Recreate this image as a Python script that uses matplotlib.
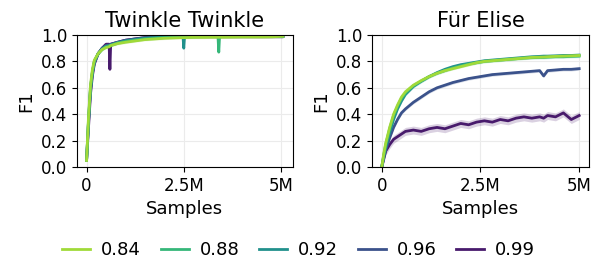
import numpy as np
import matplotlib
matplotlib.use("Agg")
import matplotlib.pyplot as plt
from matplotlib.lines import Line2D

# ---- data (samples in millions) ----
labels = ["0.84", "0.88", "0.92", "0.96", "0.99"]
colors = ["#a0da39", "#35b779", "#21918c", "#3b528b", "#481a6c"]

tw_x = [0, 0.05, 0.1, 0.15, 0.2, 0.3, 0.4, 0.5, 0.58, 0.6, 0.62, 0.8, 1.0, 1.25, 1.5,
        1.75, 2.0, 2.25, 2.48, 2.5, 2.52, 2.75, 3.0, 3.2, 3.38, 3.4, 3.42, 3.75, 4.0,
        4.25, 4.5, 4.75, 5.05]
tw_084 = [0.05, 0.38, 0.62, 0.74, 0.81, 0.86, 0.89, 0.905, 0.91, 0.915, 0.92, 0.935, 0.945,
          0.955, 0.965, 0.97, 0.975, 0.978, 0.98, 0.98, 0.98, 0.982, 0.982, 0.983, 0.983,
          0.983, 0.983, 0.984, 0.985, 0.985, 0.985, 0.986, 0.99]
tw_088 = [0.05, 0.36, 0.6, 0.72, 0.8, 0.86, 0.89, 0.91, 0.915, 0.92, 0.92, 0.94, 0.95,
          0.96, 0.97, 0.975, 0.98, 0.982, 0.985, 0.985, 0.985, 0.986, 0.988, 0.988, 0.988,
          0.87, 0.988, 0.989, 0.99, 0.99, 0.99, 0.99, 0.99]
tw_092 = [0.05, 0.35, 0.59, 0.72, 0.8, 0.86, 0.895, 0.915, 0.92, 0.92, 0.925, 0.94, 0.955,
          0.965, 0.975, 0.98, 0.985, 0.987, 0.988, 0.9, 0.988, 0.99, 0.99, 0.99, 0.99,
          0.99, 0.99, 0.99, 0.99, 0.99, 0.99, 0.99, 0.99]
tw_096 = [0.05, 0.34, 0.58, 0.71, 0.79, 0.86, 0.9, 0.92, 0.925, 0.925, 0.93, 0.945, 0.96,
          0.97, 0.98, 0.985, 0.988, 0.99, 0.99, 0.99, 0.99, 0.99, 0.99, 0.99, 0.99,
          0.99, 0.99, 0.99, 0.99, 0.99, 0.99, 0.99, 0.99]
tw_099 = [0.05, 0.3, 0.55, 0.69, 0.78, 0.86, 0.9, 0.93, 0.93, 0.74, 0.93, 0.945, 0.96,
          0.97, 0.98, 0.985, 0.99, 0.99, 0.99, 0.99, 0.99, 0.99, 0.99, 0.99, 0.99,
          0.99, 0.99, 0.99, 0.99, 0.99, 0.99, 0.99, 0.99]
tw_std = [0.01, 0.01, 0.01, 0.01, 0.015]

fe_x = [0, 0.05, 0.1, 0.2, 0.3, 0.4, 0.5, 0.6, 0.8, 1.0, 1.2, 1.4, 1.6, 1.8, 2.0, 2.2,
        2.4, 2.6, 2.8, 3.0, 3.2, 3.4, 3.6, 3.8, 4.0, 4.1, 4.2, 4.4, 4.6, 4.8, 5.0]
fe_084 = [0, 0.1, 0.18, 0.3, 0.4, 0.47, 0.53, 0.57, 0.62, 0.655, 0.685, 0.71, 0.73, 0.745,
          0.76, 0.775, 0.79, 0.8, 0.805, 0.81, 0.815, 0.82, 0.825, 0.83, 0.832, 0.833,
          0.835, 0.838, 0.84, 0.842, 0.845]
fe_088 = [0, 0.09, 0.17, 0.29, 0.39, 0.46, 0.52, 0.56, 0.615, 0.65, 0.685, 0.71, 0.73, 0.75,
          0.765, 0.78, 0.79, 0.8, 0.805, 0.81, 0.815, 0.82, 0.825, 0.828, 0.83, 0.83,
          0.832, 0.835, 0.835, 0.838, 0.84]
fe_092 = [0, 0.08, 0.15, 0.26, 0.36, 0.44, 0.5, 0.55, 0.61, 0.65, 0.685, 0.715, 0.74, 0.76,
          0.775, 0.785, 0.795, 0.805, 0.81, 0.815, 0.82, 0.825, 0.83, 0.835, 0.838, 0.84,
          0.84, 0.842, 0.845, 0.845, 0.848]
fe_096 = [0, 0.07, 0.13, 0.22, 0.3, 0.36, 0.41, 0.44, 0.49, 0.53, 0.57, 0.6, 0.62, 0.64,
          0.655, 0.67, 0.68, 0.69, 0.7, 0.705, 0.71, 0.715, 0.72, 0.725, 0.73, 0.69, 0.73,
          0.735, 0.74, 0.74, 0.745]
fe_099 = [0, 0.06, 0.12, 0.17, 0.21, 0.23, 0.25, 0.27, 0.28, 0.27, 0.29, 0.3, 0.29, 0.31,
          0.33, 0.32, 0.34, 0.35, 0.34, 0.36, 0.35, 0.37, 0.38, 0.37, 0.38, 0.37, 0.39,
          0.38, 0.41, 0.36, 0.39]
fe_std = [0.01, 0.012, 0.012, 0.012, 0.03]

panels = [
    ("Twinkle Twinkle", tw_x, [tw_084, tw_088, tw_092, tw_096, tw_099], tw_std),
    ("Für Elise", fe_x, [fe_084, fe_088, fe_092, fe_096, fe_099], fe_std),
]

plt.rcParams["font.family"] = ["DejaVu Sans"]
fig = plt.figure(figsize=(5.95, 2.69), dpi=100)
ax1 = fig.add_axes([0.129, 0.379, 0.363, 0.491])
ax2 = fig.add_axes([0.625, 0.379, 0.365, 0.491])

for ax, (title, xs, series, stds) in zip([ax1, ax2], panels):
    x = np.array(xs) * 1e6
    # draw highest threshold first so 0.84 ends on top
    for i in reversed(range(len(series))):
        y = np.array(series[i])
        ax.fill_between(x, y - stds[i], y + stds[i], color=colors[i], alpha=0.2, lw=0)
        ax.plot(x, y, color=colors[i], lw=2)
    ax.set_title(title, fontsize=15)
    ax.set_ylim(0, 1)
    ax.set_yticks([0, 0.2, 0.4, 0.6, 0.8, 1.0])
    ax.set_yticklabels(["0.0", "0.2", "0.4", "0.6", "0.8", "1.0"])
    ax.set_xticks([0, 2.5e6, 5e6])
    ax.set_xticklabels(["0", "2.5M", "5M"])
    ax.tick_params(labelsize=12)
    ax.set_xlabel("Samples", fontsize=13)
    ax.set_ylabel("F1", fontsize=13)
    ax.grid(color="#ebebeb", lw=0.8)
    ax.set_axisbelow(True)

handles = [Line2D([], [], color=c, lw=2) for c in colors]
fig.legend(handles, labels, loc="lower center", ncol=5, frameon=False, fontsize=13,
           bbox_to_anchor=(0.502, -0.025), handlelength=1.55, handletextpad=0.6,
           columnspacing=1.1)

fig.savefig("out.png", dpi=100)
